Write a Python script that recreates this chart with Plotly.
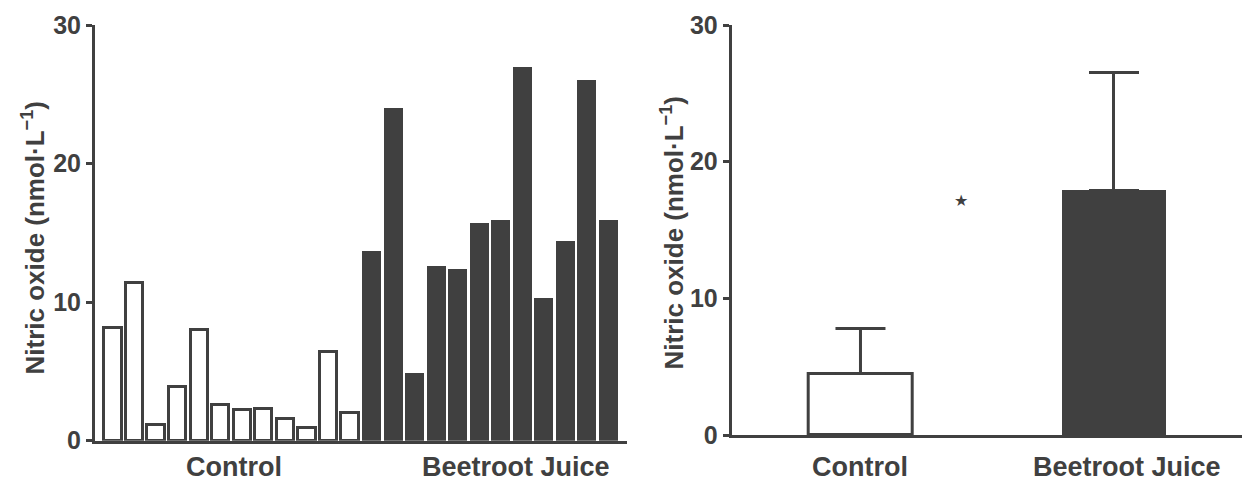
import plotly.graph_objects as go

W, H = 1248, 481

# ---- data ----
control_ids = [f"C{i}" for i in range(1, 13)]
beet_ids = [f"B{i}" for i in range(1, 13)]
control_vals = [8.1, 11.4, 1.1, 3.9, 8.0, 2.6, 2.2, 2.3, 1.6, 0.9, 6.4, 2.0]
beet_vals = [13.7, 24.0, 4.9, 12.6, 12.4, 15.7, 15.9, 27.0, 10.3, 14.4, 26.0, 15.9]

groups = ["Control", "Beetroot Juice"]
means = [4.5, 17.9]
sds = [3.3, 8.6]

y_ticks = [0, 10, 20, 30]
y_title = "Nitric oxide (nmol·L<sup>−1</sup>)"

DARK = "#404040"
FONT = "Liberation Sans, Arial, sans-serif"


def px(x):
    return x / W


def py(y):
    return 1 - y / H


fig = go.Figure()

# left panel: individual values
fig.add_trace(go.Bar(x=control_ids, y=control_vals, width=0.8,
                     marker=dict(color="white", line=dict(color=DARK, width=3)),
                     xaxis="x", yaxis="y", showlegend=False))
fig.add_trace(go.Bar(x=beet_ids, y=beet_vals, width=0.88,
                     marker=dict(color=DARK, line=dict(color=DARK, width=0)),
                     xaxis="x", yaxis="y", showlegend=False))

# right panel: means with SD
fig.add_trace(go.Bar(x=[groups[0]], y=[means[0]], width=0.41,
                     marker=dict(color="white", line=dict(color=DARK, width=3)),
                     error_y=dict(type="data", symmetric=False, array=[sds[0]], arrayminus=[0],
                                  color=DARK, thickness=3, width=25),
                     xaxis="x2", yaxis="y2", showlegend=False))
fig.add_trace(go.Bar(x=[groups[1]], y=[means[1]], width=0.41,
                     marker=dict(color=DARK, line=dict(color=DARK, width=0)),
                     error_y=dict(type="data", symmetric=False, array=[sds[1]], arrayminus=[0],
                                  color=DARK, thickness=3, width=25),
                     xaxis="x2", yaxis="y2", showlegend=False))

axis_common = dict(showline=True, linecolor=DARK, linewidth=3, showgrid=False,
                   zeroline=False, automargin=False)
yaxis_common = dict(axis_common, range=[0, 30], tickvals=y_ticks, ticks="outside", ticklen=6,
                    tickwidth=3, tickcolor=DARK,
                    tickfont=dict(family=FONT, size=25, color=DARK, weight="bold"))

fig.update_layout(
    width=W, height=H,
    margin=dict(l=0, r=0, t=0, b=0, pad=0),
    paper_bgcolor="white", plot_bgcolor="white",
    bargap=0,
    xaxis=dict(axis_common, domain=[px(95), px(627)], type="category",
               categoryorder="array", categoryarray=control_ids + beet_ids,
               range=[-0.836, 23.86], showticklabels=False, ticks="", anchor="y"),
    yaxis=dict(yaxis_common, domain=[py(440.7), py(25)], anchor="x"),
    xaxis2=dict(axis_common, domain=[px(731.7), px(1242)], type="category",
                categoryorder="array", categoryarray=groups,
                range=[-0.508, 1.505], showticklabels=False, ticks="", anchor="y2"),
    yaxis2=dict(yaxis_common, domain=[py(435), py(25)], anchor="x2"),
)

label_font = dict(family=FONT, size=27, color=DARK, weight="bold")
annotations = [
    dict(text="Control", x=px(233.5), y=py(467), xref="paper", yref="paper",
         showarrow=False, xanchor="center", yanchor="middle", font=label_font),
    dict(text="Beetroot Juice", x=px(515.5), y=py(467), xref="paper", yref="paper",
         showarrow=False, xanchor="center", yanchor="middle", font=label_font),
    dict(text="Control", x=px(860), y=py(467), xref="paper", yref="paper",
         showarrow=False, xanchor="center", yanchor="middle", font=label_font),
    dict(text="Beetroot Juice", x=px(1126.7), y=py(467), xref="paper", yref="paper",
         showarrow=False, xanchor="center", yanchor="middle", font=label_font),
    dict(text=y_title, x=px(34), y=py(237.5), xref="paper", yref="paper", textangle=-90,
         showarrow=False, xanchor="center", yanchor="middle",
         font=dict(family=FONT, size=26, color=DARK, weight="bold")),
    dict(text=y_title, x=px(673), y=py(232.5), xref="paper", yref="paper", textangle=-90,
         showarrow=False, xanchor="center", yanchor="middle",
         font=dict(family=FONT, size=26, color=DARK, weight="bold")),
    dict(text="★", x=px(960.7), y=py(200), xref="paper", yref="paper",
         showarrow=False, xanchor="center", yanchor="middle",
         font=dict(family="DejaVu Sans", size=16, color=DARK)),
]
fig.update_layout(annotations=annotations)

fig.write_html("out.html")
